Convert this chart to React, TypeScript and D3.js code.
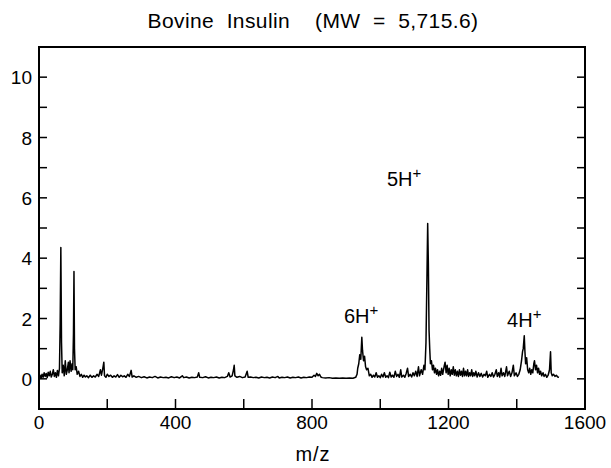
import React from "react";
import * as d3 from "d3";

const titleText = "Bovine  Insulin    (MW  =  5,715.6)";
const xLabel = "m/z";
const xTickLabels = [0, 400, 800, 1200, 1600];
const xMinorTicks = [200, 400, 600, 800, 1000, 1200, 1400];
const yTickLabels = [0, 2, 4, 6, 8, 10];
const yMinorTicks = [0, 1, 2, 3, 4, 5, 6, 7, 8, 9, 10];

// [m/z, intensity]
const spectrum: [number, number][] = [
  [0,0.05],[3,0.12],[6,0.02],[9,0.15],[12,0.05],[15,0.2],[18,0.08],[21,0.18],[24,0.04],[27,0.22],
  [30,0.1],[33,0.25],[36,0.06],[39,0.15],[42,0.3],[45,0.08],[48,0.2],[51,0.05],[54,0.28],[57,0.1],
  [60,0.35],[62,1.8],[64,4.35],[66,1.2],[68,0.2],[71,0.45],[74,0.1],[77,0.6],[80,0.15],[83,0.3],
  [86,0.55],[88,0.2],[91,0.6],[94,0.25],[97,0.5],[99,0.3],[101,1.5],[102.5,3.56],[104,1.0],[106,0.3],
  [109,0.4],[112,0.15],[116,0.25],[120,0.08],[124,0.15],[128,0.05],[132,0.12],[136,0.06],[140,0.1],
  [145,0.04],[150,0.12],[155,0.05],[160,0.1],[165,0.06],[170,0.15],[175,0.08],[180,0.3],[183,0.12],
  [187,0.35],[190,0.55],[192,0.1],[196,0.05],[200,0.15],[205,0.08],[210,0.12],[215,0.05],[220,0.1],
  [225,0.06],[230,0.14],[235,0.05],[240,0.12],[245,0.07],[250,0.1],[255,0.05],[260,0.15],[265,0.08],
  [270,0.28],[273,0.06],[278,0.1],[285,0.05],[292,0.08],[300,0.04],[308,0.07],[316,0.03],[324,0.06],
  [332,0.04],[340,0.08],[348,0.03],[356,0.06],[364,0.04],[372,0.05],[380,0.03],[388,0.07],[396,0.04],
  [404,0.06],[412,0.03],[420,0.1],[424,0.04],[432,0.06],[440,0.03],[448,0.05],[456,0.04],[464,0.06],
  [468,0.2],[471,0.05],[480,0.04],[488,0.07],[496,0.03],[504,0.05],[512,0.04],[520,0.06],[528,0.03],
  [536,0.05],[544,0.04],[552,0.08],[556,0.2],[560,0.06],[566,0.1],[570,0.3],[572,0.45],[574,0.1],
  [580,0.05],[588,0.08],[596,0.04],[604,0.06],[610,0.25],[613,0.05],[620,0.06],[628,0.04],[636,0.05],
  [644,0.03],[652,0.06],[660,0.04],[668,0.05],[676,0.03],[684,0.06],[692,0.04],[700,0.08],[704,0.03],
  [712,0.05],[720,0.04],[728,0.06],[736,0.03],[744,0.05],[752,0.04],[760,0.06],[768,0.03],[776,0.05],
  [784,0.04],[792,0.06],[800,0.05],[806,0.12],[810,0.08],[814,0.18],[818,0.1],[822,0.15],[826,0.06],
  [830,0.04],[840,0.03],[850,0.04],[860,0.02],[870,0.03],[880,0.02],[890,0.03],[900,0.02],[910,0.03],
  [920,0.02],[928,0.05],[932,0.15],[934,0.35],[937,0.5],[940,0.8],[943,0.65],[946,1.38],[948,0.95],
  [951,0.6],[954,0.75],[957,0.4],[960,0.3],[964,0.35],[968,0.1],[972,0.15],[976,0.05],[980,0.12],
  [984,0.06],[988,0.2],[992,0.05],[996,0.1],[1000,0.04],[1004,0.15],[1008,0.06],[1012,0.2],[1016,0.05],
  [1020,0.1],[1024,0.04],[1028,0.22],[1032,0.06],[1036,0.12],[1040,0.05],[1044,0.25],[1048,0.08],
  [1052,0.15],[1056,0.05],[1060,0.3],[1063,0.06],[1068,0.12],[1072,0.05],[1076,0.18],[1080,0.35],
  [1083,0.08],[1088,0.15],[1092,0.06],[1096,0.2],[1100,0.1],[1104,0.25],[1108,0.08],[1112,0.4],
  [1115,0.1],[1120,0.3],[1124,0.15],[1128,0.45],[1131,0.3],[1134,1.2],[1137,3.5],[1139,5.15],
  [1141,3.8],[1143,1.6],[1145,1.0],[1147,0.5],[1150,0.6],[1153,0.3],[1156,0.45],[1159,0.2],
  [1162,0.35],[1165,0.15],[1168,0.3],[1171,0.1],[1174,0.25],[1177,0.12],[1180,0.35],[1183,0.15],
  [1187,0.4],[1190,0.55],[1193,0.2],[1196,0.45],[1199,0.15],[1202,0.35],[1205,0.1],[1208,0.3],
  [1211,0.15],[1214,0.4],[1217,0.12],[1220,0.3],[1223,0.1],[1226,0.25],[1229,0.08],[1232,0.3],
  [1235,0.12],[1238,0.25],[1241,0.08],[1244,0.35],[1247,0.1],[1250,0.25],[1253,0.1],[1256,0.3],
  [1259,0.08],[1262,0.2],[1265,0.1],[1268,0.3],[1271,0.08],[1274,0.2],[1277,0.1],[1280,0.25],
  [1284,0.06],[1288,0.2],[1292,0.08],[1296,0.18],[1300,0.06],[1304,0.15],[1308,0.1],[1312,0.25],
  [1315,0.05],[1320,0.15],[1324,0.08],[1328,0.2],[1332,0.06],[1336,0.15],[1340,0.3],[1343,0.08],
  [1347,0.2],[1350,0.06],[1354,0.35],[1357,0.1],[1361,0.2],[1365,0.08],[1370,0.4],[1373,0.1],
  [1378,0.25],[1382,0.08],[1386,0.2],[1390,0.45],[1393,0.1],[1398,0.2],[1402,0.08],[1406,0.15],
  [1410,0.3],[1414,0.6],[1417,0.9],[1419,1.0],[1422,1.43],[1424,0.9],[1426,0.5],[1429,0.7],
  [1432,0.3],[1435,0.2],[1438,0.35],[1441,0.15],[1444,0.3],[1447,0.2],[1450,0.5],[1452,0.6],
  [1455,0.3],[1458,0.45],[1461,0.2],[1464,0.35],[1467,0.15],[1470,0.25],[1473,0.1],[1477,0.2],
  [1480,0.08],[1484,0.15],[1488,0.05],[1492,0.12],[1496,0.3],[1499,0.9],[1501,0.2],[1504,0.1],
  [1508,0.15],[1512,0.08],[1516,0.12],[1520,0.06],[1524,0.05],
];

const peakLabels = ["6H", "5H", "4H"];
const peakLabelX = [944, 1070, 1422];
const peakLabelY = [1.86, 6.4, 1.73];

const W = 611;
const H = 468;
const left = 39, right = 585, top = 47, bottom = 409;
const font = "'Liberation Sans', Arial, Helvetica, sans-serif";

export default function App() {
  const x = d3.scaleLinear().domain([0, 1600]).range([left, right]);
  const y = d3.scaleLinear().domain([-1, 11]).range([bottom, top]);
  const line = d3
    .line<[number, number]>()
    .x((d) => x(d[0]))
    .y((d) => y(d[1]));

  return (
    <div style={{ position: "fixed", left: 0, top: 0 }}>
      <svg width={W} height={H} style={{ display: "block", background: "#fff" }}>
        <rect x={0} y={0} width={W} height={H} fill="#fff" />
        <text
          x={313}
          y={28}
          textAnchor="middle"
          fontFamily={font}
          fontSize={21}
          letterSpacing={0.4}
          style={{ whiteSpace: "pre" }}
          fill="#000"
        >
          {titleText}
        </text>

        {/* data */}
        <path d={line(spectrum) || ""} fill="none" stroke="#000" strokeWidth={1.5} strokeLinejoin="round" />

        {/* frame */}
        <rect x={left} y={top} width={right - left} height={bottom - top} fill="none" stroke="#000" strokeWidth={2} />

        {/* y ticks */}
        {yMinorTicks.map((t) => (
          <g key={"y" + t}>
            <line x1={left} x2={left + 8} y1={y(t)} y2={y(t)} stroke="#000" strokeWidth={1.5} />
            <line x1={right - 8} x2={right} y1={y(t)} y2={y(t)} stroke="#000" strokeWidth={1.5} />
          </g>
        ))}
        {yTickLabels.map((t) => (
          <text key={"yl" + t} x={32} y={y(t) + 7} textAnchor="end" fontFamily={font} fontSize={19} fill="#000">
            {t}
          </text>
        ))}

        {/* x ticks */}
        {xMinorTicks.map((t) => (
          <line key={"x" + t} x1={x(t)} x2={x(t)} y1={bottom} y2={bottom - 10} stroke="#000" strokeWidth={1.5} />
        ))}
        {xTickLabels.map((t) => (
          <text key={"xl" + t} x={x(t)} y={429} textAnchor="middle" fontFamily={font} fontSize={19} fill="#000">
            {t}
          </text>
        ))}
        <text x={313} y={461} textAnchor="middle" fontFamily={font} fontSize={20} letterSpacing={1} fill="#000">
          {xLabel}
        </text>

        {/* peak labels */}
        {peakLabels.map((l, i) => (
          <text
            key={l}
            x={x(peakLabelX[i])}
            y={y(peakLabelY[i])}
            textAnchor="middle"
            fontFamily={font}
            fontSize={20}
            fill="#000"
          >
            {l}
            <tspan fontSize={15} dy={-8}>+</tspan>
          </text>
        ))}
      </svg>
    </div>
  );
}
